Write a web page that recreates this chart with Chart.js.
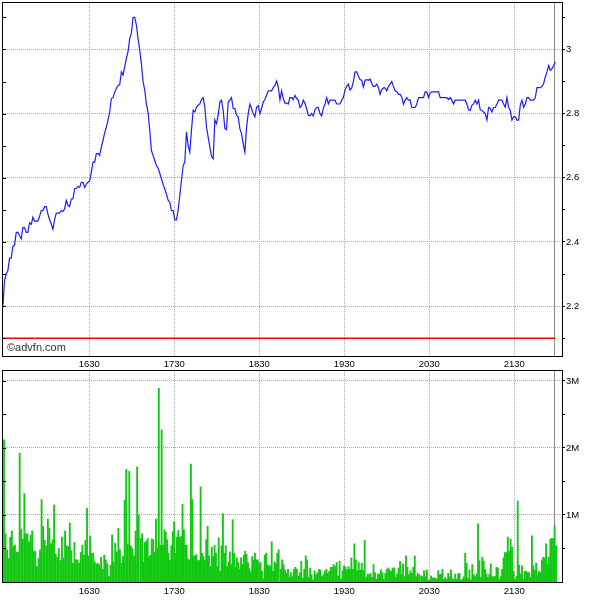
<!DOCTYPE html>
<html>
<head>
<meta charset="utf-8">
<script src="https://cdn.jsdelivr.net/npm/chart.js@4.4.1/dist/chart.umd.min.js"></script>
<style>
  body { margin: 0; background: #fff; }
  #wrap { position: relative; width: 600px; height: 600px; }
  #price { position: absolute; left: 0; top: 0; }
  #volume { position: absolute; left: 0; top: 368px; }
</style>
</head>
<body>
<div id="wrap">
  <canvas id="price" width="600" height="372" style="width:600px;height:372px"></canvas>
  <canvas id="volume" width="600" height="232" style="width:600px;height:232px"></canvas>
</div>
<script>
// time axis = minutes after midnight
let timeTicks = [990, 1050, 1110, 1170, 1230, 1290]
let timeLabels = ['1630', '1730', '1830', '1930', '2030', '2130']

let priceTicks = [2.1, 2.2, 2.3, 2.4, 2.5, 2.6, 2.7, 2.8, 2.9, 3.0, 3.1]
let priceTickLabels = ['', '2.2', '', '2.4', '', '2.6', '', '2.8', '', '3', '']
let volTicks = [0.5, 1, 1.5, 2, 2.5, 3]
let volTickLabels = ['', '1M', '', '2M', '', '3M']

let priceStart = 929, priceEnd = 1319
let lastTrade = 1318
let prevClose = 2.1

let prices = [
  2.196, 2.28, 2.30, 2.31, 2.35, 2.35, 2.386, 2.39, 2.43, 2.43, 2.42, 2.41, 2.445, 2.445, 2.43, 2.43,
  2.46, 2.455, 2.477, 2.465, 2.465, 2.465, 2.48, 2.498, 2.498, 2.51, 2.51, 2.487, 2.47, 2.456, 2.44, 2.47,
  2.49, 2.49, 2.49, 2.498, 2.495, 2.503, 2.53, 2.515, 2.51, 2.534, 2.534, 2.566, 2.567, 2.573, 2.57, 2.586,
  2.586, 2.57, 2.58,
  2.586, 2.59, 2.617, 2.649, 2.649, 2.675, 2.676, 2.67, 2.696, 2.717, 2.74, 2.758, 2.78, 2.805, 2.847, 2.85,
  2.867, 2.878, 2.888, 2.89, 2.93, 2.92, 2.946, 2.972, 2.993, 3.034, 3.05, 3.1, 3.1, 3.076, 3.034, 2.998,
  2.956, 2.9, 2.873, 2.83, 2.805, 2.748, 2.685, 2.67, 2.654, 2.638, 2.63, 2.614, 2.597, 2.58, 2.565, 2.55,
  2.53, 2.524, 2.498, 2.498, 2.469, 2.469, 2.498, 2.545, 2.592, 2.638, 2.649, 2.743, 2.7, 2.68, 2.748, 2.81,
  2.805, 2.82, 2.826,
  2.83, 2.844, 2.85, 2.82, 2.758, 2.727, 2.696, 2.667, 2.659, 2.78, 2.769, 2.795, 2.836, 2.842, 2.81, 2.753,
  2.75, 2.836, 2.842, 2.85, 2.816, 2.816, 2.795, 2.79, 2.753, 2.737, 2.706, 2.68, 2.758, 2.8, 2.83, 2.816,
  2.8, 2.79, 2.82, 2.825, 2.8, 2.816, 2.836, 2.844, 2.857, 2.871, 2.871, 2.871, 2.881, 2.888, 2.902, 2.883,
  2.842, 2.871, 2.847, 2.833, 2.833, 2.83, 2.85, 2.85, 2.844, 2.857, 2.847, 2.842, 2.819, 2.825, 2.842, 2.832,
  2.816, 2.795, 2.793, 2.8, 2.793, 2.812, 2.819, 2.819, 2.8, 2.793, 2.816, 2.83, 2.85, 2.83, 2.842, 2.842,
  2.842, 2.842, 2.83, 2.83, 2.83, 2.842, 2.85, 2.873, 2.885, 2.892, 2.873, 2.88, 2.9, 2.93, 2.93, 2.917,
  2.906, 2.904, 2.883, 2.904, 2.906, 2.904, 2.908, 2.894, 2.885, 2.885, 2.892, 2.881, 2.86, 2.875, 2.88, 2.88,
  2.871, 2.885, 2.892, 2.9, 2.885, 2.871, 2.868, 2.86,
  2.86, 2.852, 2.83, 2.842, 2.85, 2.842, 2.842, 2.819, 2.819, 2.819, 2.83, 2.85, 2.85, 2.85, 2.85, 2.868,
  2.868, 2.85, 2.864, 2.868, 2.868, 2.868, 2.868, 2.868, 2.85, 2.85, 2.85, 2.85, 2.85, 2.844, 2.85, 2.842,
  2.83, 2.842, 2.842, 2.842, 2.842, 2.842, 2.842, 2.842, 2.83, 2.812, 2.81, 2.826, 2.83, 2.842, 2.83, 2.842,
  2.812, 2.81, 2.805, 2.8, 2.78, 2.819, 2.816, 2.805, 2.819, 2.819, 2.83, 2.842, 2.842, 2.842, 2.83, 2.82,
  2.85, 2.82, 2.81, 2.78, 2.79, 2.79, 2.78, 2.78, 2.826, 2.842, 2.82, 2.83, 2.85, 2.85, 2.842, 2.842,
  2.842, 2.85, 2.881, 2.881, 2.881, 2.885, 2.894, 2.914, 2.93, 2.95, 2.935, 2.94, 2.95, 2.961
]

// volume in millions of shares, read in four stretches of the session
let volSpans = [[929.8, 1024.9], [1026.3, 1123.7], [1125.1, 1222.9], [1224.3, 1319.5]]
let volA = [
  2.12, .72, .48, .35, .67, .76, .53, .55, .45, .44, 1.92, .79, .64, 1.32, .72, .72, .60, .70, .76, .46,
  .46, .23, .35, .48, 1.23, .83, .62, .54, .94, .80, .57, .63, 1.15, .42, .37, .50, .32, .67, .36, .76,
  .54, .53, .88, .47, .28, .59, .33, .33, .28, .44, .55, .40, .62, 1.10, .39, .68, .43, .43, .30, .27,
  .28, .25, .37, .19, .40, .33, .27, .08, .25, .70, .30, .58, .45, .80, .48, .28, .38, 1.22, 1.68, .57,
  1.65, .54, .50, .39, .76, 1.72, 1.00
]
let volB = [
  .65, .72, .30, .59, .61, .65, .38, .40, .64, .63, .44, .94, .50, 2.89, .55, 2.27, .55, .78, .74, .63,
  .43, .32, .54, .75, .90, .43, .67, .77, .67, .68, 1.16, .78, .55, .55, .34, .33, 1.76, 1.23, .39, .39,
  .41, .32, .32, 1.42, .43, .38, .32, .63, .83, .39, .23, .52, .38, .55, .43, .23, .66, .16, .54, 1.02,
  .43, .54, .23, .30, .45, .26, .93, .43, .22, .36, .29, .19, .36, .26, .40, .46, .41, .29, .20, .15,
  .38, .33, .43, .33, .33, .28, .29, .16, .05, .40, .43, .26, .24, .24, .60, .16, .30, .28, .43, .48
]
let volC = [
  .19, .33, .26, .18, .13, .19, .07, .14, .08, .19, .22, .19, .09, .14, .31, .06, .19, .39, .33, .07,
  .21, .11, .03, .17, .11, .14, .19, .18, .08, .11, .16, .19, .13, .16, .22, .22, .26, .23, .29, .09,
  .31, .04, .17, .24, .22, .18, .23, .19, .36, .19, .57, .33, .17, .29, .18, .28, .17, .62, .07, .12,
  .11, .13, .07, .26, .14, .04, .12, .12, .18, .14, .04, .13, .19, .21, .18, .16, .21, .21, .07, .12,
  .21, .31, .12, .27, .08, .39, .22, .11, .17, .13, .22, .39, .08, .13, .11
]
let volD = [
  .09, .08, .17, .08, .18, .03, .03, .09, .06, .06, .06, .04, .17, .11, .12, .19, .04, .07, .04, .13,
  .08, .18, .05, .04, .12, .04, .12, .13, .03, .04, .08, .43, .28, .05, .18, .03, .26, .11, .08, .12,
  .87, .32, .07, .37, .31, .19, .12, .07, .12, .27, .08, .08, .08, .22, .21, .04, .08, .19, .36, .44,
  .44, .67, .46, .64, .52, .16, .04, .08, 1.21, .25, .12, .24, .04, .16, .16, .14, .14, .07, .69, .24,
  .18, .28, .11, .16, .14, .33, .37, .36, .57, .26, .37, .64, .65, .65, .84, .54
]

let tickFont = { family: 'Liberation Sans', size: 9.5 }
let gridColor = '#a4acac'

let spread = (vals, from, to) => vals.map((v, i) => ({ x: from + i * (to - from) / (vals.length - 1), y: v }))

let volPoints = [volA, volB, volC, volD].flatMap((vals, k) => spread(vals, volSpans[k][0], volSpans[k][1]))

let frame = {
  id: 'frame',
  beforeDatasetsDraw(chart) {
    let { ctx, chartArea: a, scales } = chart
    let x = Math.round(scales.x.getPixelForValue(lastTrade)) + 0.5
    ctx.save()
    ctx.strokeStyle = '#8a8a8a'
    ctx.lineWidth = 1
    ctx.beginPath()
    ctx.moveTo(x, a.top)
    ctx.lineTo(x, a.bottom)
    ctx.stroke()
    ctx.restore()
  },
  afterDraw(chart, args, opts) {
    let { ctx, chartArea: a, scales } = chart
    ctx.save()
    ctx.strokeStyle = '#000'
    ctx.lineWidth = 1
    ctx.strokeRect(a.left - 0.5, a.top - 0.5, a.right - a.left + 1, a.bottom - a.top + 1)
    // small inward ticks on the left edge
    ctx.beginPath()
    scales.y.ticks.forEach(t => {
      let y = Math.round(scales.y.getPixelForValue(t.value)) + 0.5
      ctx.moveTo(a.left, y)
      ctx.lineTo(a.left + 3, y)
    })
    ctx.stroke()
    if (opts.text) {
      ctx.fillStyle = '#333'
      ctx.font = '11px "Liberation Sans"'
      ctx.textBaseline = 'middle'
      ctx.fillText(opts.text, a.left + 4, a.bottom - 8)
    }
    ctx.restore()
  }
}

function timeAxis(height, pad) {
  return {
    type: 'linear',
    min: 929.1,
    max: 1323.7,
    offset: false,
    afterBuildTicks: s => { s.ticks = timeTicks.map(v => ({ value: v })) },
    afterFit: s => { s.height = height },
    ticks: { callback: (v, i) => timeLabels[i], padding: pad, font: tickFont, color: '#000', maxRotation: 0, autoSkip: false },
    grid: { color: gridColor, drawTicks: false, offset: false },
    border: { display: false, dash: [1, 1] }
  }
}

function valueAxis(min, max, tickVals, tickLabels) {
  return {
    position: 'right',
    min: min,
    max: max,
    afterBuildTicks: s => { s.ticks = tickVals.map(v => ({ value: v })) },
    afterFit: s => { s.width = 38; s.paddingTop = 0; s.paddingBottom = 0 },
    ticks: { callback: (v, i) => tickLabels[i], padding: 1, font: tickFont, color: '#000', autoSkip: false },
    grid: {
      color: c => tickLabels[c.index] ? gridColor : 'rgba(0,0,0,0)',
      tickColor: '#000',
      tickLength: 3
    },
    border: { display: false, dash: [1, 1] }
  }
}

let priceChart = new Chart(document.querySelector('#price'), {
  type: 'line',
  data: {
    datasets: [{
      data: spread(prices, priceStart, priceEnd),
      borderColor: '#1c1cff',
      borderWidth: 1.2,
      pointRadius: 0
    }, {
      data: [{ x: priceStart, y: prevClose }, { x: priceEnd, y: prevClose }],
      borderColor: '#ff0000',
      borderWidth: 1.4,
      pointRadius: 0
    }]
  },
  options: {
    responsive: false,
    animation: false,
    devicePixelRatio: 1,
    layout: { padding: { left: 3, top: 3, right: 0, bottom: 0 } },
    plugins: { legend: { display: false }, tooltip: { enabled: false }, frame: { text: '©advfn.com' } },
    scales: {
      x: timeAxis(16, 3),
      y: valueAxis(2.0447, 3.1447, priceTicks, priceTickLabels)
    }
  },
  plugins: [frame]
})

let volChart = new Chart(document.querySelector('#volume'), {
  type: 'bar',
  data: {
    datasets: [{
      data: volPoints,
      backgroundColor: '#11c811',
      barThickness: 1.2
    }]
  },
  options: {
    responsive: false,
    animation: false,
    devicePixelRatio: 1,
    layout: { padding: { left: 3, top: 3, right: 0, bottom: 0 } },
    plugins: { legend: { display: false }, tooltip: { enabled: false } },
    scales: {
      x: timeAxis(18, 4),
      y: valueAxis(0, 3.149, volTicks, volTickLabels)
    }
  },
  plugins: [frame]
})
</script>
</body>
</html>
